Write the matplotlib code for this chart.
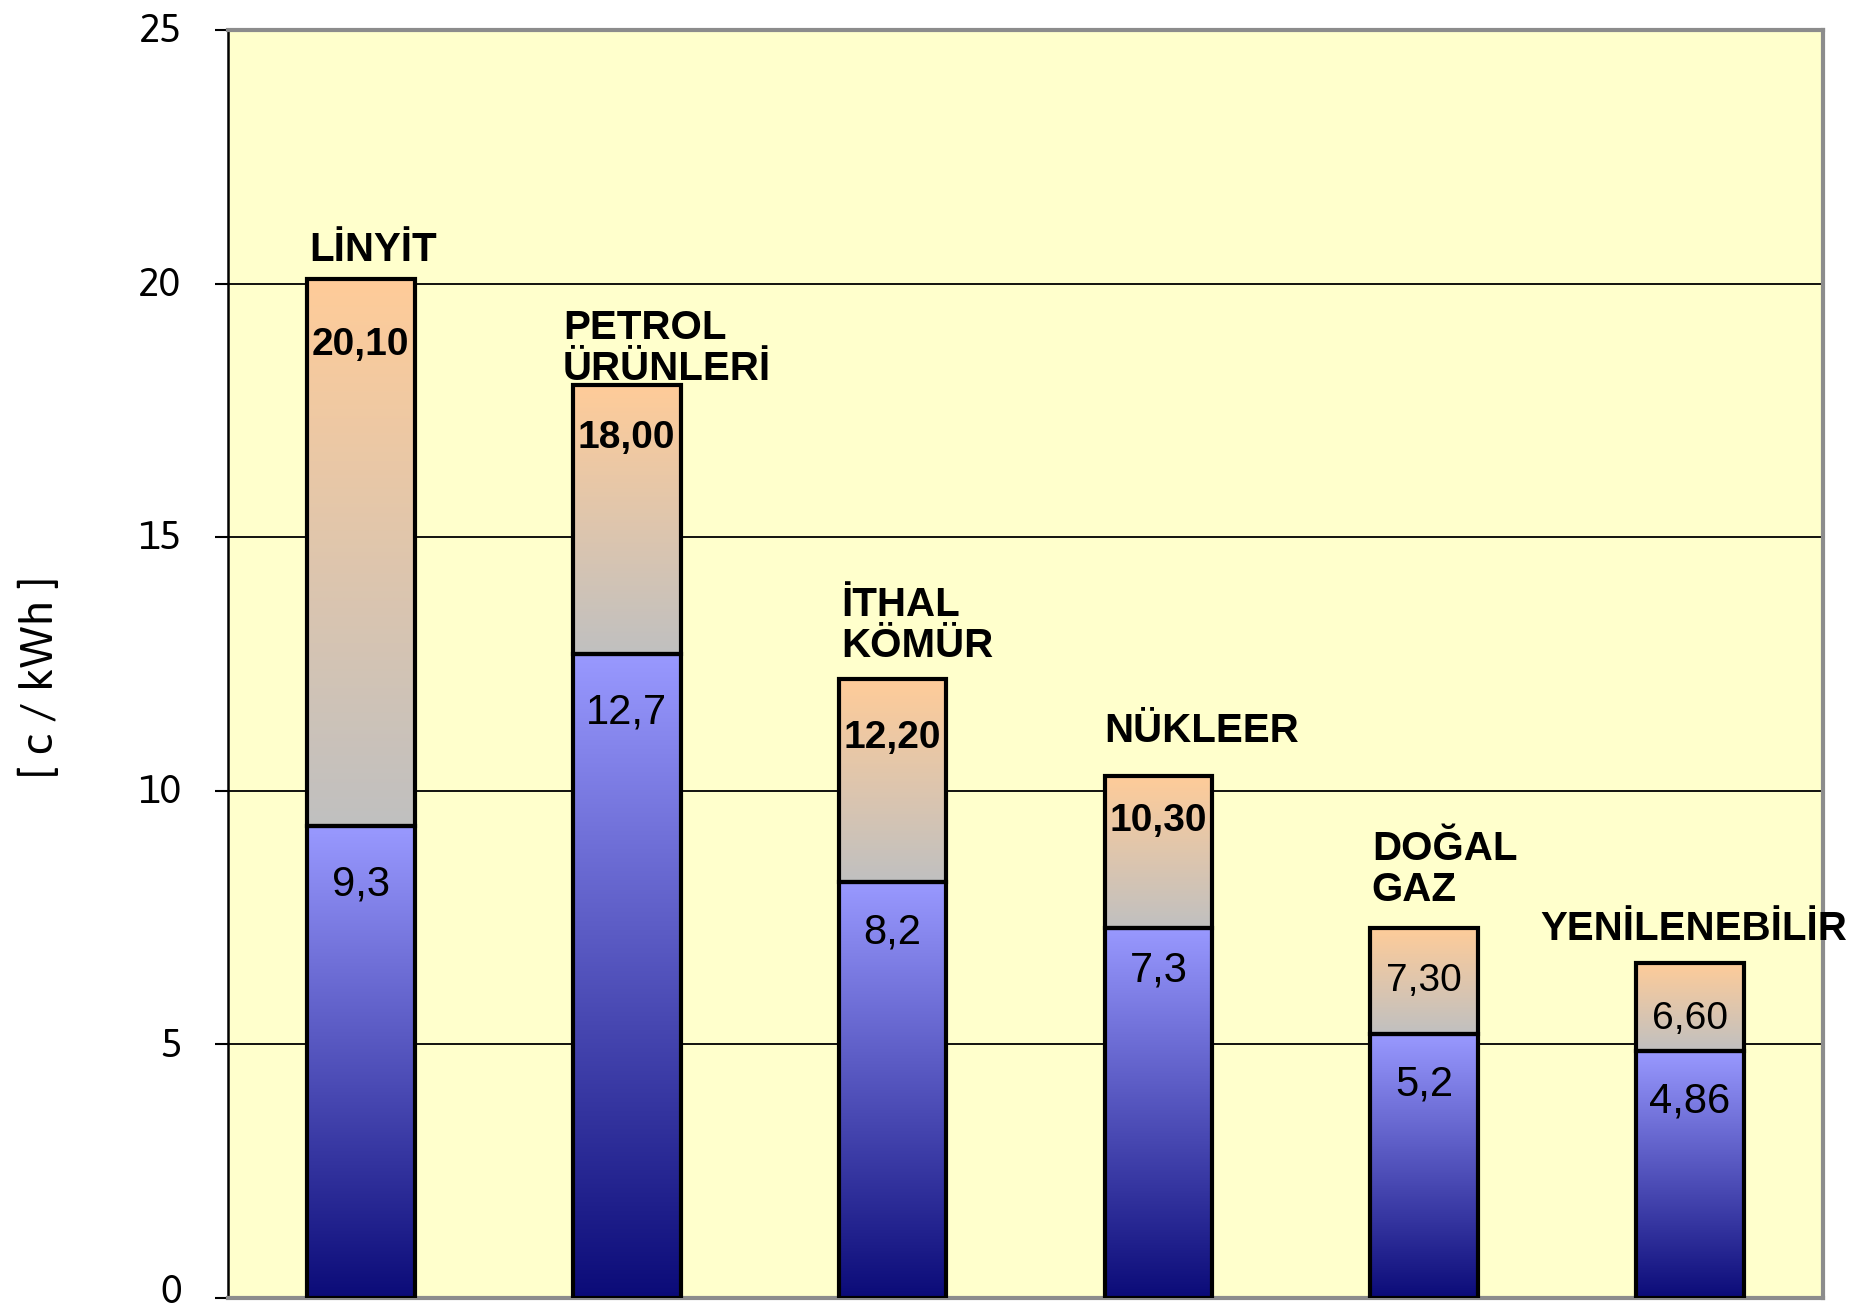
import matplotlib
matplotlib.use("Agg")
import matplotlib.pyplot as plt
import matplotlib.transforms as mtransforms
import numpy as np
from matplotlib.colors import LinearSegmentedColormap

# Electricity generation cost by source [c / kWh]
sources = ["LİNYİT", "PETROL\nÜRÜNLERİ", "İTHAL\nKÖMÜR", "NÜKLEER", "DOĞAL\nGAZ", "YENİLENEBİLİR"]
lower_values = [9.3, 12.7, 8.2, 7.3, 5.2, 4.86]
upper_values = [20.10, 18.00, 12.20, 10.30, 7.30, 6.60]
lower_labels = ["9,3", "12,7", "8,2", "7,3", "5,2", "4,86"]
upper_labels = ["20,10", "18,00", "12,20", "10,30", "7,30", "6,60"]
y_ticks = [0, 5, 10, 15, 20, 25]

# label styling
upper_weights = ["bold", "bold", "bold", "bold", "normal", "normal"]
upper_dy = [-48, -38, -42, -33, -38, -40]
lower_dy = [-42, -42, -36, -31, -36, -36]
name_dx = [1.5, -7, 1.5, 0, 1, -69]
name_dy = [13, 4, 16, 24, 19, 17]

thin_font = ["Asap", "Asap Condensed", "DejaVu Sans"]
bold_font = ["Liberation Sans", "DejaVu Sans"]

blue_cmap = LinearSegmentedColormap.from_list("blue", ["#0b0b78", "#9999ff"])
peach_cmap = LinearSegmentedColormap.from_list("peach", ["#c0c0c0", "#ffcc99"])

fig = plt.figure(figsize=(18.56, 13.12), dpi=100)
ax = fig.add_axes([0.1228, 0.0107, 0.8594, 0.9664])
ax.set_facecolor("#ffffcc")

x = np.arange(len(sources))
width = 0.405
grad = np.linspace(0, 1, 256).reshape(-1, 1)


def gradient_bar(xc, bottom, height, cmap):
    bar = ax.bar(xc, height, width, bottom=bottom, facecolor="none",
                 edgecolor="black", linewidth=3, zorder=4)[0]
    img = ax.imshow(grad, cmap=cmap, origin="lower", aspect="auto",
                    extent=(xc - width / 2, xc + width / 2, bottom, bottom + height),
                    zorder=3, interpolation="bicubic")
    img.set_clip_path(bar)
    return bar


lower = np.array(lower_values)
upper = np.array(upper_values)
for i in range(len(sources)):
    gradient_bar(x[i], 0, lower[i], blue_cmap)
    gradient_bar(x[i], lower[i], upper[i] - lower[i], peach_cmap)

    ax.annotate(upper_labels[i], (x[i], upper[i]), xytext=(0, upper_dy[i]),
                textcoords="offset points", ha="center", va="center",
                fontsize=28, fontweight=upper_weights[i], family=bold_font, zorder=6)
    ax.annotate(lower_labels[i], (x[i], lower[i]), xytext=(0, lower_dy[i]),
                textcoords="offset points", ha="center", va="center",
                fontsize=30, family=bold_font, zorder=6)

# source names above the bars
for i, name in enumerate(sources):
    ax.annotate(name, (x[i] - width / 2, upper[i]), xytext=(name_dx[i], name_dy[i]),
                textcoords="offset points", ha="left", va="baseline",
                fontsize=29, fontweight="bold", family=bold_font,
                linespacing=1.1, zorder=6, annotation_clip=False)

ax.set_xlim(-0.5, len(sources) - 0.5)
ax.set_ylim(0, 25)
ax.set_xticks([])
ax.set_yticks(y_ticks)
ax.set_yticklabels([str(t) for t in y_ticks], family=thin_font, fontsize=29,
                   fontweight="light")
ax.tick_params(axis="y", length=9.4, width=1.5, pad=24, colors="black")
# lift tick labels a little; the bottom "0" a bit more so it stays inside the figure
for lbl in ax.get_yticklabels():
    lift = 7 if lbl.get_text() == "0" else 2
    shift = mtransforms.ScaledTranslation(0, lift / 72, fig.dpi_scale_trans)
    lbl.set_transform(lbl.get_transform() + shift)
ax.yaxis.grid(True, color="black", linewidth=1.3)
ax.set_axisbelow(True)

ax.spines["left"].set_color("black")
ax.spines["left"].set_linewidth(1.8)
for side in ["top", "right", "bottom"]:
    ax.spines[side].set_color("#8c8c8c")
    ax.spines[side].set_linewidth(3)

fig.text(0.022, 0.484, "[ c / kWh ]", rotation=90, ha="center", va="center",
         fontsize=33, family=thin_font, fontweight="light", color="black")

fig.savefig("out.png", dpi=100, facecolor="white")
